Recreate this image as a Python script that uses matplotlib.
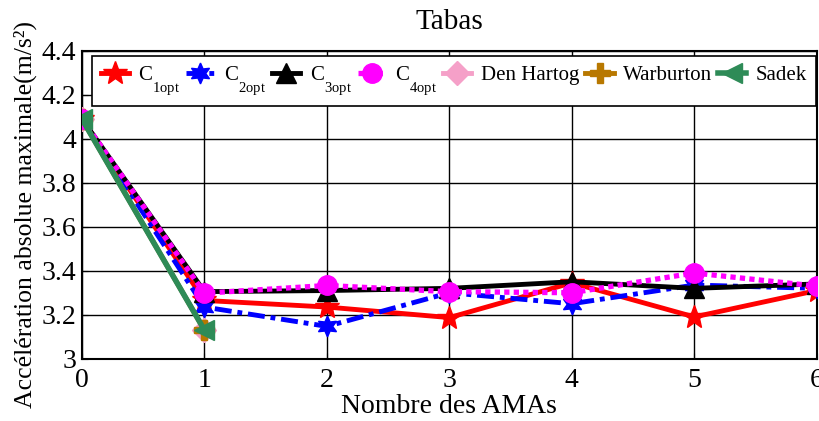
import matplotlib
matplotlib.use("Agg")
import matplotlib.pyplot as plt

plt.rcParams['font.family'] = ['Liberation Serif', 'DejaVu Serif']
plt.rcParams['mathtext.fontset'] = 'custom'
plt.rcParams['mathtext.rm'] = 'Liberation Serif'
plt.rcParams['mathtext.it'] = 'Liberation Serif:italic'
try:
    import matplotlib._mathtext as _mt
    _mt.FontConstantsBase.sub1 = 1.2
except Exception:
    pass

x_all = [0, 1, 2, 3, 4, 5, 6]
x_short = [0, 1]
c1 = [4.09, 3.265, 3.235, 3.187, 3.345, 3.19, 3.31]
c2 = [4.09, 3.235, 3.147, 3.30, 3.25, 3.335, 3.32]
c3 = [4.09, 3.305, 3.31, 3.32, 3.35, 3.32, 3.34]
c4 = [4.09, 3.298, 3.333, 3.305, 3.30, 3.39, 3.33]
den_hartog = [4.09, 3.13]
warburton = [4.09, 3.13]
sadek = [4.09, 3.13]

labels = [r'C$_{\mathrm{1opt}}$', r'C$_{\mathrm{2opt}}$', r'C$_{\mathrm{3opt}}$',
          r'C$_{\mathrm{4opt}}$', 'Den Hartog', 'Warburton', 'Sadek']

fig = plt.figure(figsize=(8.2, 4.21), dpi=100)
ax = fig.add_axes([0.1, 0.148, 0.896, 0.731])

ax.plot(x_all, c1, color='red', lw=3.5, ls='-', marker='*', ms=18, label=labels[0], zorder=3)
ax.plot(x_all, c2, color='blue', lw=3.5, ls=(0, (3.5, 1.2, 1, 1.2)), marker=(6, 1, 0), ms=15,
        label=labels[1], zorder=3)
ax.plot(x_all, c3, color='black', lw=3.5, ls='-', marker='^', ms=14, label=labels[2], zorder=3)
ax.plot(x_all, c4, color='magenta', lw=3.8, ls=(0, (1, 0.8)), marker='o', ms=14, label=labels[3], zorder=4)
ax.plot(x_short, den_hartog, color='#f5a0c8', lw=3.5, marker='D', ms=12, label=labels[4], zorder=3)
ax.plot(x_short, warburton, color='#b87800', lw=3.5, marker='P', ms=14, label=labels[5], zorder=3)
ax.plot(x_short, sadek, color='#2e8b57', lw=4, marker='<', ms=15, label=labels[6], zorder=5)

ax.set_xlim(0, 6)
ax.set_ylim(3, 4.4)
ax.set_xticks(range(7))
ax.set_yticks([3, 3.2, 3.4, 3.6, 3.8, 4, 4.2, 4.4])
ax.set_yticklabels(['3', '3.2', '3.4', '3.6', '3.8', '4', '4.2', '4.4'])
ax.grid(True, color='black', lw=1)
ax.tick_params(direction='in', labelsize=20, length=4)
ax.tick_params(axis='x', pad=6.5)
ax.tick_params(axis='y', pad=4)
for s in ax.spines.values():
    s.set_linewidth(1.5)

ax.set_title('Tabas', fontsize=21, pad=16)
ax.set_xlabel('Nombre des AMAs', fontsize=20, labelpad=1)
ax.set_ylabel('Accélération absolue maximale(m/s²)', fontsize=18.5, labelpad=0)
ax.yaxis.set_label_coords(-0.061, 0.47)

leg = ax.legend(loc='upper left', ncol=7, fontsize=15, frameon=True, fancybox=False,
                edgecolor='black', framealpha=1, handlelength=1.35, handletextpad=0.45,
                columnspacing=0.3, borderpad=0.42, borderaxespad=0.0,
                bbox_to_anchor=(0.0136, 0.984), markerscale=1.0)
leg.get_frame().set_linewidth(1.2)

fig.savefig('out.png', dpi=100)
